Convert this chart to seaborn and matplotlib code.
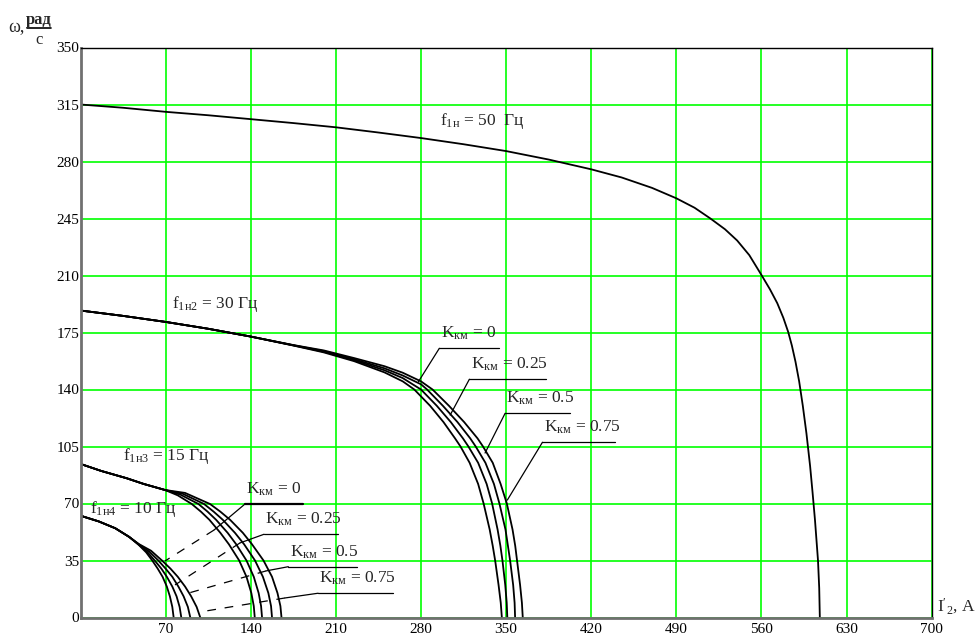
import numpy as np
import pandas as pd
import matplotlib
matplotlib.use("Agg")
import matplotlib.pyplot as plt
import seaborn as sns

# ---------------- data ----------------
I_50 = [0, 35, 70, 105, 140, 175, 210, 245, 280, 315, 350, 385, 420, 445, 470, 490, 505, 518,
        530, 540, 550, 560, 567, 573, 578, 582, 585, 588, 591, 594, 597, 600, 602, 604, 605.5,
        606.5, 607.5, 608]
W_50 = [315, 313, 310.5, 308.4, 306, 303.6, 301, 297.8, 294.4, 290.6, 286.4, 281.2, 275.2, 270.2,
        263.8, 257.4, 251.6, 245, 238.4, 231.5, 222.5, 210.3, 201.5, 193, 184, 175.3, 167, 157,
        145, 130, 113, 93, 77, 60, 45, 35, 18, 0]

I_30_k0 = [0, 35, 70, 105, 140, 175, 200, 225, 250, 265, 274.5, 287.5, 298.5, 308, 312.5, 320,
           327, 331.5, 336.5, 339, 341, 343.8, 345.6, 346.5]
W_30_k0 = [188.5, 185.2, 181.5, 177.3, 172.5, 167, 162.8, 157.4, 150.5, 145, 140, 130, 120, 110,
           105, 95, 82, 70, 54, 44, 35, 20, 9, 0]
I_30_k25 = [0, 35, 70, 105, 140, 175, 200, 225, 250, 265, 280, 293, 304.5, 314.5, 319, 327,
            334, 338.5, 343, 345.3, 347, 349.3, 350.5, 351]
W_30_k25 = [188.5, 185.2, 181.5, 177.3, 172.5, 167.1, 163.2, 158, 151.8, 147, 140, 130, 120, 110,
            105, 95, 82, 70, 54, 44, 35, 20, 9, 0]
I_30_k50 = [0, 35, 70, 105, 140, 175, 200, 225, 250, 265, 280, 285, 298, 310, 320.5, 325, 333,
            340, 344.5, 349.5, 351.5, 353.3, 355.8, 357, 357.4]
W_30_k50 = [188.5, 185.2, 181.5, 177.3, 172.5, 167.2, 163.6, 158.6, 153, 148.6, 143.2, 140, 130,
            120, 110, 105, 95, 82, 70, 54, 44, 35, 20, 9, 0]
I_30_k75 = [0, 35, 70, 105, 140, 175, 200, 225, 250, 265, 280, 289.5, 303, 315.5, 326.5, 331,
            339, 345.5, 350.6, 355.3, 357.5, 359, 361.5, 363, 363.7]
W_30_k75 = [188.5, 185.2, 181.5, 177.3, 172.5, 167.3, 164, 159.3, 154.3, 150.3, 145, 140, 130,
            120, 110, 105, 95, 82, 70, 54, 44, 35, 20, 9, 0]

I_15_k0 = [0, 17, 38, 52, 69.5, 80, 91.5, 99, 106, 115, 122, 130.5, 136.5, 140.5, 142.5, 143.3]
W_15_k0 = [94.3, 90, 85.5, 82, 78.3, 75, 69.7, 65, 60, 52, 45, 35, 25, 15, 7, 0]
I_15_k25 = [0, 17, 38, 52, 69.5, 82, 97, 104.5, 111.5, 121, 128, 136.5, 142.5, 146.5, 148.5, 149.3]
W_15_k25 = [94.3, 90, 85.5, 82, 78.3, 75.5, 69.7, 65, 60, 52, 45, 35, 25, 15, 7, 0]
I_15_k50 = [0, 17, 38, 52, 69.5, 84, 101.6, 109.5, 117, 127, 134.5, 143.5, 150, 154.5, 156.7, 157.5]
W_15_k50 = [94.3, 90, 85.5, 82, 78.3, 76, 69.7, 65, 60, 52, 45, 35, 25, 15, 7, 0]
I_15_k75 = [0, 17, 38, 52, 69.5, 86, 106.5, 115, 123, 133.5, 141, 150.5, 157.5, 162, 164.4, 165.3]
W_15_k75 = [94.3, 90, 85.5, 82, 78.3, 76.5, 69.7, 65, 60, 52, 45, 35, 25, 15, 7, 0]

I_10_k0 = [0, 15, 28.6, 40, 48, 54, 59, 63.5, 67.5, 71, 73.5, 75.5, 76.6]
W_10_k0 = [62.5, 59, 54.8, 49.5, 44.5, 40, 35, 30, 25, 19, 13, 6.5, 0]
I_10_k25 = [0, 15, 28.6, 40, 48, 55, 61, 66.5, 71, 75.5, 79, 81.5, 82.9]
W_10_k25 = [62.5, 59, 54.8, 49.5, 44.7, 40.2, 35, 30, 25, 19, 13, 6.5, 0]
I_10_k50 = [0, 15, 28.6, 40, 48, 56.5, 64, 70, 75.5, 80.5, 84.8, 88.3, 90.3]
W_10_k50 = [62.5, 59, 54.8, 49.5, 44.9, 40.5, 35, 30, 25, 19, 13, 6.5, 0]
I_10_k75 = [0, 15, 28.6, 40, 48, 58, 67, 74, 80, 86, 91, 95.5, 98.5]
W_10_k75 = [62.5, 59, 54.8, 49.5, 45.1, 41, 35, 30, 25, 19, 13, 6.5, 0]

x_ticks = [70, 140, 210, 280, 350, 420, 490, 560, 630, 700]
y_ticks = [0, 35, 70, 105, 140, 175, 210, 245, 280, 315, 350]

k_labels = ["0", "0.25", "0.5", "0.75"]

# upper K labels (30 Hz family): underline y, underline x0, x1, leader end
up_under_y = [165.3, 146.3, 125.4, 107.6]
up_under_x0 = [295.1, 319.8, 349.2, 379.9]
up_under_x1 = [344.5, 383.0, 402.6, 439.7]
up_lead_x = [277.9, 304.0, 332.7, 351.0]
up_lead_y = [144.8, 124.3, 101.0, 72.1]

# lower K labels (15/10 Hz families)
lo_under_y = [69.7, 51.1, 31.2, 14.9]
lo_under_x0 = [135.3, 150.9, 170.9, 195.4]
lo_under_x1 = [182.8, 211.6, 227.2, 257.0]
lo_mid_x = [109.8, 131.2, 152.6, 168.2]
lo_mid_y = [53.7, 45.8, 28.6, 12.0]
lo_end_x = [69.5, 77.7, 86.0, 98.3]
lo_end_y = [34.7, 20.0, 14.4, 3.4]

# ---------------- build dataframe ----------------
curves = {
    "50": (I_50, W_50),
    "30_0": (I_30_k0, W_30_k0), "30_25": (I_30_k25, W_30_k25),
    "30_50": (I_30_k50, W_30_k50), "30_75": (I_30_k75, W_30_k75),
    "15_0": (I_15_k0, W_15_k0), "15_25": (I_15_k25, W_15_k25),
    "15_50": (I_15_k50, W_15_k50), "15_75": (I_15_k75, W_15_k75),
    "10_0": (I_10_k0, W_10_k0), "10_25": (I_10_k25, W_10_k25),
    "10_50": (I_10_k50, W_10_k50), "10_75": (I_10_k75, W_10_k75),
}
rows = []
for name, (xs, ys) in curves.items():
    for i, (a, b) in enumerate(zip(xs, ys)):
        rows.append({"curve": name, "order": i, "I": a, "w": b})
df = pd.DataFrame(rows)

# ---------------- style ----------------
sns.set_theme(style="white")
plt.rcParams["font.family"] = ["Liberation Serif", "DejaVu Serif"]
plt.rcParams["mathtext.fontset"] = "custom"
plt.rcParams["mathtext.rm"] = "Liberation Serif"
plt.rcParams["mathtext.it"] = "Liberation Serif:italic"
plt.rcParams["mathtext.bf"] = "Liberation Serif:bold"

W_PX, H_PX = 980, 635
fig = plt.figure(figsize=(W_PX / 100, H_PX / 100), dpi=100)
ax = fig.add_axes([80.5 / W_PX, 1 - 617.5 / H_PX, 851.2 / W_PX, 570 / H_PX])

sns.lineplot(data=df, x="I", y="w", units="curve", estimator=None, sort=False,
             color="black", linewidth=1.3, ax=ax)

ax.set_xlim(0, 700)
ax.set_ylim(0, 350)
ax.set_xticks(x_ticks)
ax.set_yticks(y_ticks)
ax.set_xticklabels([str(v) for v in x_ticks])
ax.set_yticklabels([str(v) for v in y_ticks])
ax.tick_params(axis="both", length=0, labelsize=11, colors="black")
ax.tick_params(axis="y", pad=1)
ax.tick_params(axis="x", pad=4)
ax.set_xlabel("")
ax.set_ylabel("")
ax.grid(True, color="#00ff00", linewidth=1.2)
ax.set_axisbelow(True)
for s in ["top", "right"]:
    ax.spines[s].set_color("black")
    ax.spines[s].set_linewidth(1.0)
for s in ["left", "bottom"]:
    ax.spines[s].set_color("#707070")
    ax.spines[s].set_linewidth(2.0)

fs = 12.5
# frequency labels
ax.text(295.7, 302.4, r"$\mathregular{f_{1н}}$ = 50  Гц", fontsize=fs, va="baseline")
ax.text(75, 189.9, r"$\mathregular{f_{1н2}}$ = 30 Гц", fontsize=fs, va="baseline")
ax.text(34.7, 96.7, r"$\mathregular{f_{1н3}}$ = 15 Гц", fontsize=fs, va="baseline")
ax.text(8, 64.4, r"$\mathregular{f_{1н4}}$ = 10 Гц", fontsize=fs, va="baseline")

# upper K labels
for i, k in enumerate(k_labels):
    ax.text(up_under_x0[i] + 1, up_under_y[i] + 6.5, r"$\mathregular{K_{км}}$ = " + k,
            fontsize=fs, va="baseline")
    ax.plot([up_under_x0[i], up_under_x1[i]], [up_under_y[i], up_under_y[i]],
            color="black", lw=0.9)
    ax.plot([up_under_x0[i], up_lead_x[i]], [up_under_y[i], up_lead_y[i]],
            color="black", lw=0.9)

# lower K labels
for i, k in enumerate(k_labels):
    ax.text(lo_under_x0[i] + 1, lo_under_y[i] + 6.5, r"$\mathregular{K_{км}}$ = " + k,
            fontsize=fs, va="baseline")
    ax.plot([lo_under_x0[i], lo_under_x1[i]], [lo_under_y[i], lo_under_y[i]],
            color="black", lw=1.6 if i == 0 else 0.9)
    ax.plot([lo_under_x0[i], lo_mid_x[i]], [lo_under_y[i], lo_mid_y[i]],
            color="black", lw=0.9)
    ax.plot([lo_mid_x[i], lo_end_x[i]], [lo_mid_y[i], lo_end_y[i]],
            color="black", lw=0.9, dashes=(7, 7))

# axis titles
fig.text(8 / W_PX, 1 - 32 / H_PX, "ω,", fontsize=13, va="baseline", ha="left")
fig.text(39 / W_PX, 1 - 24 / H_PX, "рад", fontsize=12, va="baseline", ha="center",
         fontweight="bold")
fig.add_artist(plt.Line2D([27 / W_PX, 51 / W_PX], [1 - 28 / H_PX, 1 - 28 / H_PX],
                          color="black", lw=1.2, transform=fig.transFigure))
fig.text(39 / W_PX, 1 - 44 / H_PX, "с", fontsize=12, va="baseline", ha="center")
fig.text(937 / W_PX, 1 - 611 / H_PX, r"$\mathregular{I'_{2}}$, A", fontsize=12.5,
         va="baseline", ha="left")

fig.savefig("out.png", dpi=100)
